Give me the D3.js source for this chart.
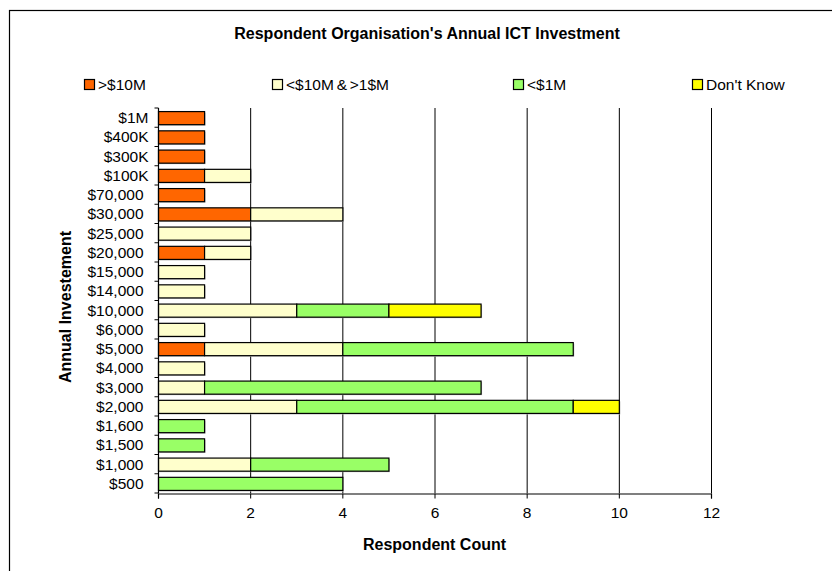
<!DOCTYPE html>
<html>
<head>
<meta charset="utf-8">
<script src="https://cdn.jsdelivr.net/npm/d3@7"></script>
<style>
  body { margin: 0; background: #fff; }
  text { font-family: "Liberation Sans", Arial, sans-serif; fill: #000; }
</style>
</head>
<body>
<svg id="viz"></svg>
<script>
var width = 832;
var height = 571;

// data
var categories = ["$1M", "$400K", "$300K", "$100K", "$70,000", "$30,000", "$25,000", "$20,000",
    "$15,000", "$14,000", "$10,000", "$6,000", "$5,000", "$4,000", "$3,000", "$2,000",
    "$1,600", "$1,500", "$1,000", "$500"];
var seriesNames = [">$10M", "<$10M & >1$M", "<$1M", "Don't Know"];
var over10M    = [1, 1, 1, 1, 1, 2, 0, 1, 0, 0, 0, 0, 1, 0, 0, 0, 0, 0, 0, 0];
var from1To10M = [0, 0, 0, 1, 0, 2, 2, 1, 1, 1, 3, 1, 3, 1, 1, 3, 0, 0, 2, 0];
var under1M    = [0, 0, 0, 0, 0, 0, 0, 0, 0, 0, 2, 0, 5, 0, 6, 6, 1, 1, 3, 4];
var dontKnow   = [0, 0, 0, 0, 0, 0, 0, 0, 0, 0, 2, 0, 0, 0, 0, 1, 0, 0, 0, 0];
var xTicks = [0, 2, 4, 6, 8, 10, 12];
var colors = ["#FF6600", "#FFFFCC", "#99FF66", "#FFFF00"];

var margin = {top: 108, left: 158, right: 121, bottom: 78};
var fontSize = "15.5px";

var svg = d3.select("#viz").attr("width", width).attr("height", height);

// outer chart border (runs off right/bottom edge like the original)
svg.append("rect")
    .attr("x", 9.5).attr("y", 10.5)
    .attr("width", 900).attr("height", 700)
    .style("fill", "none").style("stroke", "#000").style("stroke-width", 1.2);

var rows = categories.map(function(c, i) {
    return {cat: c, a: over10M[i], b: from1To10M[i], c: under1M[i], d: dontKnow[i]};
});
var stack = d3.stack().keys(["a", "b", "c", "d"]);
var layers = stack(rows);

var x = d3.scaleLinear().domain([0, 12]).range([margin.left, width - margin.right]);
var y = d3.scaleBand().domain(categories).range([margin.top, height - margin.bottom]).paddingInner(0.32).paddingOuter(0.16);

// vertical gridlines
svg.append("g").selectAll("line")
    .data(xTicks.filter(function(d) { return d > 0; }))
    .enter().append("line")
    .attr("x1", function(d) { return x(d) + 0.5; })
    .attr("x2", function(d) { return x(d) + 0.5; })
    .attr("y1", margin.top)
    .attr("y2", height - margin.bottom)
    .style("stroke", "#000").style("stroke-width", 1);

// bars with a faint shadow
var g = svg.append("g");
layers.forEach(function(layer, k) {
    var bars = layer.filter(function(d) { return d[1] - d[0] > 0; });
    g.append("g").selectAll("rect")
        .data(bars).enter().append("rect")
        .attr("x", function(d) { return x(d[0]) + 1.5; })
        .attr("y", function(d) { return y(d.data.cat) + 1.5; })
        .attr("width", function(d) { return x(d[1]) - x(d[0]); })
        .attr("height", y.bandwidth())
        .style("fill", "#bbb");
});
layers.forEach(function(layer, k) {
    var bars = layer.filter(function(d) { return d[1] - d[0] > 0; });
    g.append("g").selectAll("rect")
        .data(bars).enter().append("rect")
        .attr("x", function(d) { return x(d[0]) + 0.5; })
        .attr("y", function(d) { return y(d.data.cat) + 0.5; })
        .attr("width", function(d) { return x(d[1]) - x(d[0]); })
        .attr("height", y.bandwidth())
        .style("fill", colors[k])
        .style("stroke", "#000").style("stroke-width", 1.2);
});

// y axis: ticks between categories
var yAxis = svg.append("g").attr("transform", "translate(" + (margin.left + 0.5) + ",0)");
yAxis.append("line")
    .attr("x1", 0).attr("x2", 0)
    .attr("y1", margin.top).attr("y2", height - margin.bottom)
    .style("stroke", "#000").style("stroke-width", 1.2);
yAxis.selectAll("line.tk")
    .data(d3.range(categories.length + 1))
    .enter().append("line").attr("class", "tk")
    .attr("x1", -4).attr("x2", 0)
    .attr("y1", function(i) { return margin.top + i * y.step(); })
    .attr("y2", function(i) { return margin.top + i * y.step(); })
    .style("stroke", "#000");
// labels ending in K/M sit a little closer to the axis, as in the original
yAxis.selectAll("text")
    .data(categories)
    .enter().append("text")
    .attr("x", function(d) { return /[KM]$/.test(d) ? -10 : -15; })
    .attr("y", function(d) { return y(d) + y.bandwidth() / 2; })
    .attr("dy", "0.36em")
    .attr("text-anchor", "end")
    .style("font-size", fontSize)
    .text(function(d) { return d; });

// x axis
var xAxis = svg.append("g")
    .attr("transform", "translate(0," + (height - margin.bottom + 0.5) + ")")
    .call(d3.axisBottom(x).tickValues(xTicks).tickSize(5).tickPadding(8).tickFormat(d3.format("d")));
xAxis.select(".domain").style("stroke", "#000").style("stroke-width", 1.2);
xAxis.selectAll("line").style("stroke", "#000");
xAxis.selectAll("text").style("font-size", fontSize).style("font-family", "Liberation Sans, Arial, sans-serif");

// titles
svg.append("text")
    .attr("x", 427).attr("y", 39)
    .attr("text-anchor", "middle")
    .style("font-size", "16px").style("font-weight", "bold")
    .text("Respondent Organisation's Annual ICT Investment");

svg.append("text")
    .attr("x", x(6)).attr("y", 550)
    .attr("text-anchor", "middle")
    .style("font-size", "16px").style("font-weight", "bold")
    .text("Respondent Count");

svg.append("text")
    .attr("transform", "translate(71,307) rotate(-90)")
    .attr("text-anchor", "middle")
    .style("font-size", "16px").style("font-weight", "bold")
    .text("Annual Investement");

// legend
var legendX = [84, 272, 513, 692];
var legend = svg.append("g").selectAll("g")
    .data(seriesNames)
    .enter().append("g")
    .attr("transform", function(d, i) { return "translate(" + legendX[i] + ",79)"; });
legend.append("rect")
    .attr("x", 0.5).attr("y", 0.5)
    .attr("width", 10).attr("height", 10)
    .style("fill", function(d, i) { return colors[i]; })
    .style("stroke", "#000").style("stroke-width", 1.2);
legend.append("text")
    .attr("x", 14).attr("y", 11)
    .style("font-size", fontSize)
    .style("word-spacing", function(d) { return d.indexOf("&") >= 0 ? "-1.5px" : null; })
    .text(function(d) { return d; });
</script>
</body>
</html>
